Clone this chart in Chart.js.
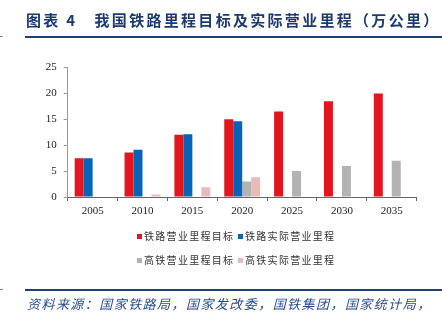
<!DOCTYPE html>
<html><head><meta charset="utf-8">
<script src="https://cdn.jsdelivr.net/npm/chart.js@4"></script>
<style>
html,body{margin:0;padding:0;background:#fff;}
#wrap{position:relative;width:442px;height:323px;overflow:hidden;}
#c{position:absolute;left:0;top:0;}
.t{position:absolute;white-space:nowrap;}
#title{left:26px;top:9px;font:bold 15px "Noto Sans CJK SC";letter-spacing:2.3px;color:#1C3A72;}
.line{position:absolute;background:#1F3E7A;}
#foot{left:27px;top:294px;font:italic 13px "Noto Sans CJK SC";letter-spacing:1.45px;color:#2A4C8C;}
.lg{position:absolute;font:10px "Noto Sans CJK SC";letter-spacing:1.3px;color:#333;white-space:nowrap;line-height:12px;}
.sw{display:inline-block;width:5px;height:5px;margin-right:2px;vertical-align:1px;}
</style></head>
<body><div id="wrap">
<canvas id="c" width="442" height="323"></canvas>
<div class="t" id="title">图表 4 &nbsp;&nbsp;我国铁路里程目标及实际营业里程（万公里）</div>
<div class="line" style="left:25px;top:36px;width:417px;height:2px;"></div>
<div class="line" style="left:0px;top:36px;width:3px;height:1px;background:#888"></div>
<div id="legend"></div>
<div class="line" style="left:25px;top:289px;width:417px;height:2px;"></div>
<div class="line" style="left:0px;top:289px;width:3px;height:1px;background:#888"></div>
<div class="t" id="foot">资料来源：国家铁路局，国家发改委，国铁集团，国家统计局，</div>
</div>
<script>
const categories = ['2005','2010','2015','2020','2025','2030','2035'];
const railTarget = [7.5, 8.6, 12, 15, 16.5, 18.5, 20];
const railActual = [7.5, 9.1, 12.1, 14.6, null, null, null];
const hsrTarget = [null, null, null, 3, 5, 6, 7];
const hsrActual = [null, 0.5, 1.9, 3.8, null, null, null];
const seriesNames = ['铁路营业里程目标','铁路实际营业里程','高铁营业里程目标','高铁实际营业里程'];
const yTicks = [0,5,10,15,20,25];
const colors = ['#E3151E','#0563B8','#B3B3B3','#E8BBBB'];

const ds = [railTarget, railActual, hsrTarget, hsrActual].map((d,i)=>({
  label: seriesNames[i], data: d, backgroundColor: colors[i], borderWidth: 0,
  categoryPercentage: 0.72, barPercentage: 1.0
}));

new Chart(document.getElementById('c'), {
  type: 'bar',
  data: { labels: categories, datasets: ds },
  options: {
    responsive: false, animation: false,
    layout: { padding: { left: 30, right: 25.3, top: 67.5, bottom: 106 } },
    plugins: { legend: { display: false }, tooltip: { enabled: false } },
    scales: {
      x: {
        grid: { offset: true, drawOnChartArea: false, tickLength: 4, color: '#666', tickWidth: 1 },
        border: { color: '#666', width: 1 },
        ticks: { font: { family: 'Liberation Serif', size: 11 }, color: '#222', padding: 4 },
        afterFit: s => { s.height = 20; }
      },
      y: {
        min: 0, max: 25,
        afterBuildTicks: s => { s.ticks = yTicks.map(v => ({ value: v })); },
        grid: { drawOnChartArea: false, tickLength: 4, color: '#999' },
        border: { color: '#999', width: 1 },
        ticks: { font: { family: 'Liberation Serif', size: 11 }, color: '#222', padding: 7 },
        afterFit: s => { s.width = 37.7; }
      }
    }
  }
});

const lg = document.getElementById('legend');
const pos = [[137,230],[238,230],[137,254],[238,254]];
seriesNames.forEach((n,i)=>{
  const d = document.createElement('div');
  d.className = 'lg';
  d.style.left = pos[i][0] + 'px';
  d.style.top = pos[i][1] + 'px';
  d.innerHTML = '<span class="sw" style="background:' + colors[i] + '"></span>' + n;
  lg.appendChild(d);
});
</script>
</body></html>
